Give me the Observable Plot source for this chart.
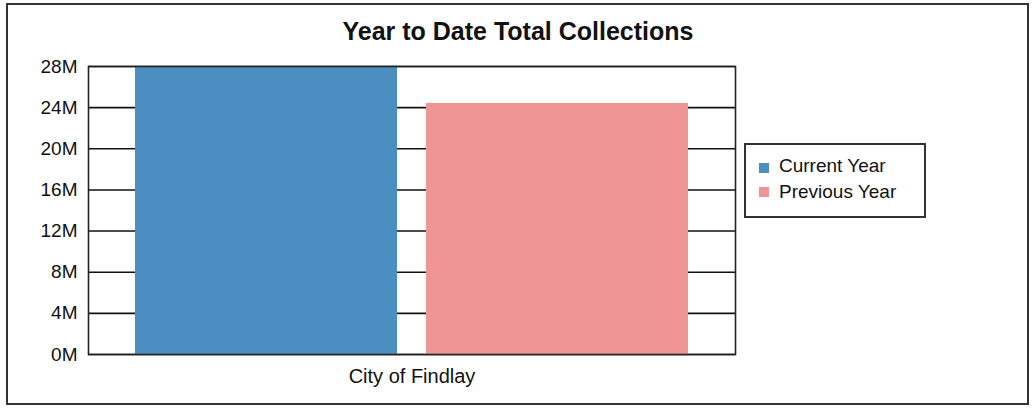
<!DOCTYPE html>
<html>
<head>
<meta charset="utf-8">
<script src="https://cdn.jsdelivr.net/npm/d3@7"></script>
<script src="https://cdn.jsdelivr.net/npm/@observablehq/plot@0.6"></script>
<style>
  body { margin: 0; background: #fff; }
  #wrap { position: relative; width: 1036px; height: 417px; font-family: "Liberation Sans", Arial, sans-serif; color: #111; overflow: hidden; }
  #outer { position: absolute; left: 6px; top: 3px; width: 1023px; height: 402px; border: 2px solid #333; box-sizing: border-box; pointer-events: none; }
  #title { position: absolute; left: 0; top: 19px; width: 1036px; text-align: center; font-size: 25px; line-height: 25px; font-weight: bold; }
  #chart { position: absolute; left: 0; top: 0; }
  #legend { position: absolute; left: 744px; top: 143px; width: 182px; height: 75px; border: 2px solid #333; box-sizing: border-box; background: #fff; }
  .sw { position: absolute; width: 10px; height: 10px; }
  .lt { position: absolute; font-size: 19px; line-height: 19px; white-space: nowrap; }
</style>
</head>
<body>
<div id="wrap">
  <div id="chart"></div>
  <div id="title"></div>
  <div id="legend"></div>
  <div id="outer"></div>
</div>
<script>
const chartTitle = "Year to Date Total Collections";
const categories = ["City of Findlay"];
const series = ["Current Year", "Previous Year"];
const values = [28.0e6, 24.4e6];
const colors = ["#4b8fc2", "#ef9595"];
const yTicks = [0, 4e6, 8e6, 12e6, 16e6, 20e6, 24e6, 28e6];

const data = series.map((s, i) => ({category: categories[0], series: s, value: values[i]}));

document.getElementById("title").textContent = chartTitle;

const plot = Plot.plot({
  width: 1036,
  height: 417,
  marginLeft: 88,
  marginRight: 301,
  marginTop: 66,
  marginBottom: 63,
  style: {fontFamily: '"Liberation Sans", Arial, sans-serif', fontSize: "19px", color: "#111", background: "transparent"},
  fx: {domain: categories, padding: 0},
  x: {domain: series, paddingInner: 0.099, paddingOuter: 0.158},
  y: {domain: [0, 28e6]},
  color: {domain: series, range: colors},
  marks: [
    Plot.ruleY(yTicks, {stroke: "#111", strokeWidth: 1.6}),
    Plot.barY(data, {fx: "category", x: "series", y: "value", fill: "series", clip: true}),
    Plot.frame({stroke: "#222", strokeWidth: 1.6}),
    Plot.axisY({ticks: yTicks, tickFormat: d => d / 1e6 + "M", tickSize: 0, tickPadding: 11, label: null, fontSize: 19}),
    Plot.axisFx({anchor: "bottom", tickSize: 0, tickPadding: 14, label: null, fontSize: 20}),
    Plot.axisX({ticks: [], label: null, tickSize: 0})
  ]
});
document.getElementById("chart").appendChild(plot);

const legend = document.getElementById("legend");
const swTops = [18, 42];
const txtTops = [11, 37];
series.forEach((s, i) => {
  const sw = document.createElement("div");
  sw.className = "sw";
  sw.style.left = "13px";
  sw.style.top = swTops[i] + "px";
  sw.style.background = colors[i];
  legend.appendChild(sw);
  const t = document.createElement("div");
  t.className = "lt";
  t.style.left = "33px";
  t.style.top = txtTops[i] + "px";
  t.textContent = s;
  legend.appendChild(t);
});
</script>
</body>
</html>
